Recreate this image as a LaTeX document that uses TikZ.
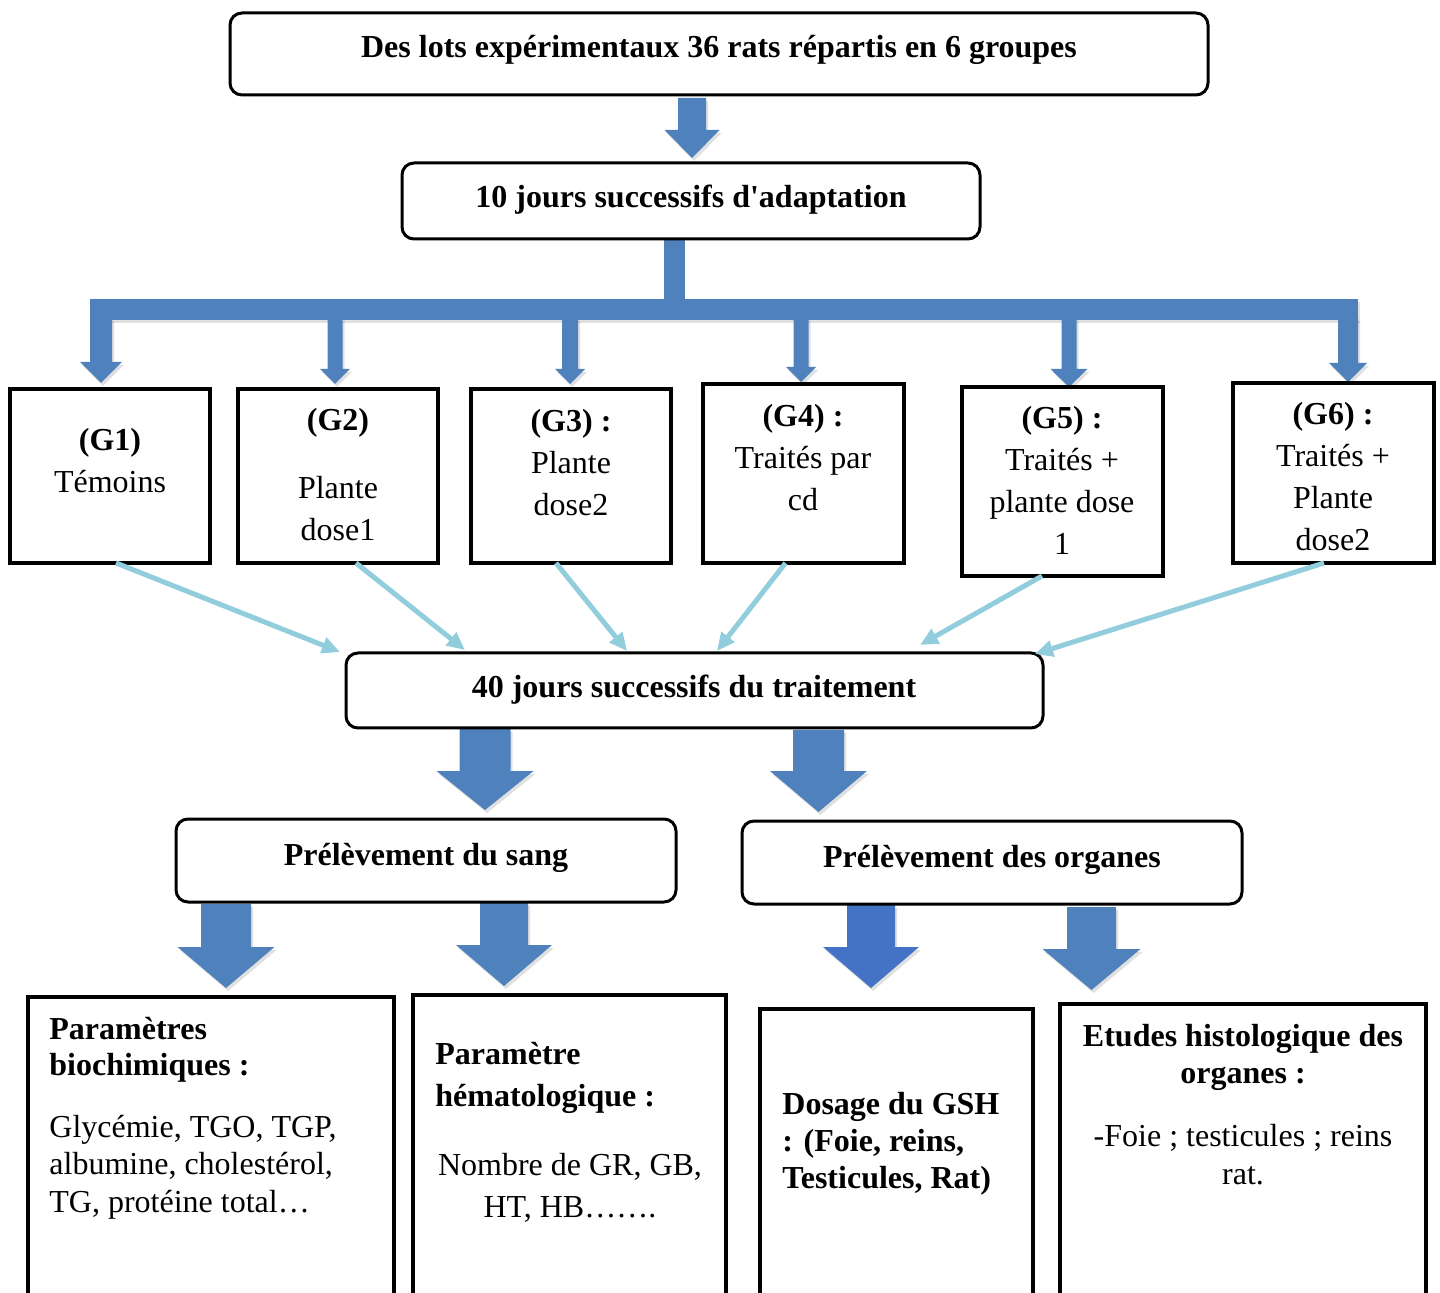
\documentclass[tikz,border=0pt]{standalone}
\usepackage{fontspec}
\setmainfont{Liberation Serif}
\font\aposbf="Liberation Serif/B" at 16pt
\usetikzlibrary{arrows.meta,fit}
\definecolor{barblue}{RGB}{79,129,189}
\definecolor{deepblue}{RGB}{68,114,196}
\definecolor{aqua}{RGB}{146,205,221}
\newcommand{\tstrut}{\rule{0pt}{11.5pt}}
% xc, ytop, yhead, ytip, halfshaft, halfhead, colour
\newcommand{\dnarrow}[7]{%
  \fill[black,opacity=0.12,xshift=1pt,yshift=-1.5pt] ({#1-#5},{#2}) -- ({#1+#5},{#2}) -- ({#1+#5},{#3}) -- ({#1+#6},{#3}) -- ({#1},{#4}) -- ({#1-#6},{#3}) -- ({#1-#5},{#3}) -- cycle;
  \fill[#7] ({#1-#5},{#2}) -- ({#1+#5},{#2}) -- ({#1+#5},{#3}) -- ({#1+#6},{#3}) -- ({#1},{#4}) -- ({#1-#6},{#3}) -- ({#1-#5},{#3}) -- cycle;}
\begin{document}
\begin{tikzpicture}[x=0.5pt,y=-0.5pt,
  rbox/.style={draw, line width=1.5pt, rounded corners=6pt, inner sep=0pt, outer sep=0pt},
  sbox/.style={draw, line width=1.75pt, inner sep=0pt, outer sep=0pt},
  lbl/.style={inner sep=0pt, anchor=north, align=center, font=\fontsize{16pt}{21pt}\selectfont},
  hd/.style={inner sep=0pt, anchor=base, font=\bfseries\fontsize{16pt}{19pt}\selectfont},
  lnk/.style={draw=aqua, line width=2.5pt, -{Triangle[length=9pt,width=8pt]}},
]
\useasboundingbox (0,0) rectangle (1440,1293);

% ---- block arrows and bar (drawn first) ----
\dnarrow{692}{98}{130}{158}{14}{27.5}{barblue}
\fill[black,opacity=0.12,xshift=1pt,yshift=-1.5pt] (90,299) rectangle (1358,320);
\fill[barblue] (664,239) rectangle (685,300);
\fill[barblue] (90,299) rectangle (1358,320);
\dnarrow{101}{318}{362}{383}{11}{21}{barblue}
\dnarrow{335}{318}{369}{384}{7.5}{15}{barblue}
\dnarrow{570}{318}{369}{384}{8}{15}{barblue}
\dnarrow{801}{318}{367}{382}{7.5}{15}{barblue}
\dnarrow{1069}{318}{369}{387}{7.5}{18.5}{barblue}
\dnarrow{1348}{318}{363}{382}{10}{19}{barblue}
\fill[barblue] (90,299) rectangle (1358,320);

\dnarrow{485}{729}{771}{810}{25.5}{48.5}{barblue}
\dnarrow{818.5}{730}{771}{812}{25.5}{48.5}{barblue}
\dnarrow{226}{904}{947}{988}{25}{48.5}{barblue}
\dnarrow{504}{903}{945}{986}{24}{48}{barblue}
\dnarrow{871}{905}{947}{988}{24}{48}{deepblue}
\dnarrow{1091.5}{907}{949}{990}{24.5}{49}{barblue}

% ---- boxes ----
\node[rbox, fit={(230,13)(1208,95)}] (top) {};
\node[rbox, fit={(402,163)(980,239)}] (adapt) {};
\node[sbox, fit={(10,389)(210,563)}] (g1) {};
\node[sbox, fit={(238,389)(438,563)}] (g2) {};
\node[sbox, fit={(471,389)(671,563)}] (g3) {};
\node[sbox, fit={(703,384)(904,563)}] (g4) {};
\node[sbox, fit={(962,387)(1163,576)}] (g5) {};
\node[sbox, fit={(1233,383)(1434,563)}] (g6) {};
\node[rbox, fit={(346,653)(1043,728)}] (p40) {};
\node[rbox, fit={(176,819)(676,902)}] (sang) {};
\node[rbox, fit={(742,821)(1242,904)}] (org) {};
\node[sbox, fit={(28,997)(394,1310)}] (b1) {};
\node[sbox, fit={(413,995)(726,1310)}] (b2) {};
\node[sbox, fit={(760,1009)(1033,1310)}] (b3) {};
\node[sbox, fit={(1060,1004)(1426,1310)}] (b4) {};

% ---- titles ----
\node[hd] (t0) at (719,58) {Des lots expérimentaux 36 rats répartis en 6 groupes};
\node[hd] (t1) at (691,208) {10 jours successifs d{\aposbf\char"27}adaptation};
\node[hd] (t2) at (694,698) {40 jours successifs du traitement};
\node[hd] (t3) at (426,865) {Prélèvement du sang};
\node[hd] (t4) at (992,867) {Prélèvement des organes};

% ---- group texts ----
\node[lbl] (tg1) at (110,427) {\tstrut\textbf{(G1)}\\Témoins};
\node[lbl] (tg2a) at (338,407) {\tstrut\textbf{(G2)}};
\node[lbl] (tg2b) at (338,475) {\tstrut Plante\\dose1};
\node[lbl] (tg3) at (571,408) {\tstrut\textbf{(G3) :}\\Plante\\dose2};
\node[lbl] (tg4) at (803,403) {\tstrut\textbf{(G4) :}\\Traités par\\cd};
\node[lbl] (tg5) at (1062,405) {\tstrut\textbf{(G5) :}\\Traités +\\plante dose\\1};
\node[lbl] (tg6) at (1333,401) {\tstrut\textbf{(G6) :}\\Traités +\\Plante\\dose2};

% ---- bottom box texts ----
\node[lbl, anchor=north west, align=left, font=\bfseries\fontsize{16pt}{18pt}\selectfont] (tb1a) at (49,1016) {\tstrut Paramètres\\biochimiques :};
\node[lbl, anchor=north west, align=left, font=\fontsize{16pt}{18.75pt}\selectfont] (tb1b) at (49,1114) {\tstrut Glycémie, TGO, TGP,\\albumine, cholestérol,\\TG, protéine total…};
\node[lbl, anchor=north west, align=left, font=\bfseries\fontsize{16pt}{21pt}\selectfont] (tb2a) at (435,1041) {\tstrut Paramètre\\hématologique :};
\node[lbl] (tb2b) at (570,1152) {\tstrut Nombre de GR, GB,\\HT, HB…….};
\node[lbl, anchor=north west, align=left, font=\bfseries\fontsize{16pt}{18.5pt}\selectfont] (tb3) at (782,1091) {\tstrut Dosage du GSH\\: (Foie, reins,\\Testicules, Rat)};
\node[lbl, font=\bfseries\fontsize{16pt}{18.5pt}\selectfont] (tb4a) at (1243,1023) {\tstrut Etudes histologique des\\organes :};
\node[lbl, font=\fontsize{16pt}{19pt}\selectfont] (tb4b) at (1243,1123) {\tstrut -Foie ; testicules ; reins\\rat.};

% ---- light blue connectors ----
\draw[lnk] ([xshift=3pt]g1.south) -- ([xshift=-3pt,yshift=0.5pt]p40.north west);
\draw[lnk] ([xshift=9pt]g2.south) -- ([xshift=-114.75pt,yshift=1.5pt]p40.north);
\draw[lnk] ([xshift=-7.5pt]g3.south) -- ([xshift=-33.75pt,yshift=1pt]p40.north);
\draw[lnk] ([xshift=-9pt]g4.south) -- ([xshift=11.25pt,yshift=1pt]p40.north);
\draw[lnk] ([xshift=-10.25pt]g5.south) -- ([xshift=112.75pt,yshift=4pt]p40.north);
\draw[lnk] ([xshift=-4.75pt]g6.south) -- ([xshift=170.25pt,yshift=-0.5pt]p40.north);
\end{tikzpicture}
\end{document}
